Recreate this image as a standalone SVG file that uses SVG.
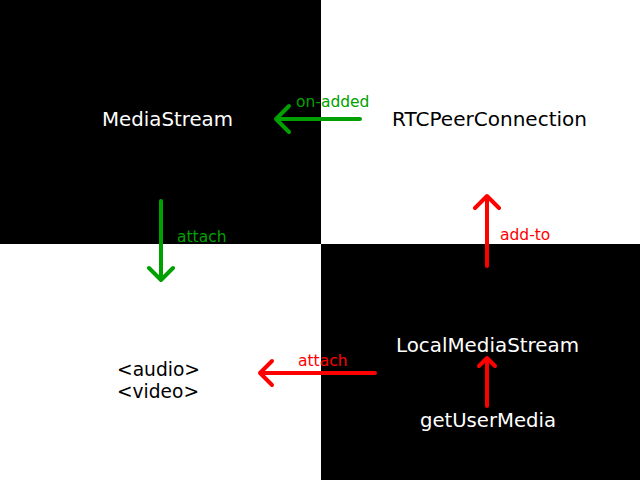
<svg xmlns="http://www.w3.org/2000/svg" width="640" height="480" viewBox="0 0 640 480">
<style>
.node{font-family:"DejaVu Sans",Verdana,sans-serif;font-size:20px}
.w{fill:#fff}.b{fill:#000}
.lbl{font-family:"DejaVu Sans",Verdana,sans-serif;font-size:15.5px}
.g{stroke:#00a000;fill:none;stroke-width:4;stroke-linecap:round;stroke-linejoin:round}
.r{stroke:#ff0000;fill:none;stroke-width:4;stroke-linecap:round;stroke-linejoin:round}
</style>
<rect width="640" height="480" fill="#fff"/>
<rect x="0" y="0" width="321" height="244" fill="#000"/>
<rect x="321" y="244" width="319" height="236" fill="#000"/>
<g id="mediastream"><text class="node w" x="102" y="126" textLength="131" lengthAdjust="spacingAndGlyphs">MediaStream</text></g>
<g id="rtcpeerconnection"><text class="node b" x="392" y="126" textLength="195" lengthAdjust="spacingAndGlyphs">RTCPeerConnection</text></g>
<g id="localmediastream"><text class="node w" x="396" y="352" textLength="183" lengthAdjust="spacingAndGlyphs">LocalMediaStream</text></g>
<g id="getusermedia"><text class="node w" x="420" y="427" textLength="136" lengthAdjust="spacingAndGlyphs">getUserMedia</text></g>
<g id="audiovideo"><text class="node b" x="117" y="376" textLength="83" lengthAdjust="spacingAndGlyphs">&lt;audio&gt;</text><text class="node b" x="117" y="398" textLength="82" lengthAdjust="spacingAndGlyphs">&lt;video&gt;</text></g>
<g id="connectors">
<path class="g" d="M360,119 H276 M289,106 L276,119 L289,132"/>
<text class="lbl" x="296" y="107" fill="#00a000">on-added</text>
<path class="g" d="M161,201 V280 M149,268 L161,280 L173,268"/>
<text class="lbl" x="177" y="242" fill="#00a000">attach</text>
<path class="r" d="M487,266 V196 M475,208 L487,196 L499,208"/>
<text class="lbl" x="500" y="240" fill="#ff0000">add-to</text>
<path class="r" d="M375,373 H260 M272,361 L260,373 L272,385"/>
<text class="lbl" x="298" y="366" fill="#ff0000">attach</text>
<path class="r" d="M487,406 V358 M479,366 L487,358 L495,366"/>
</g>
</svg>
